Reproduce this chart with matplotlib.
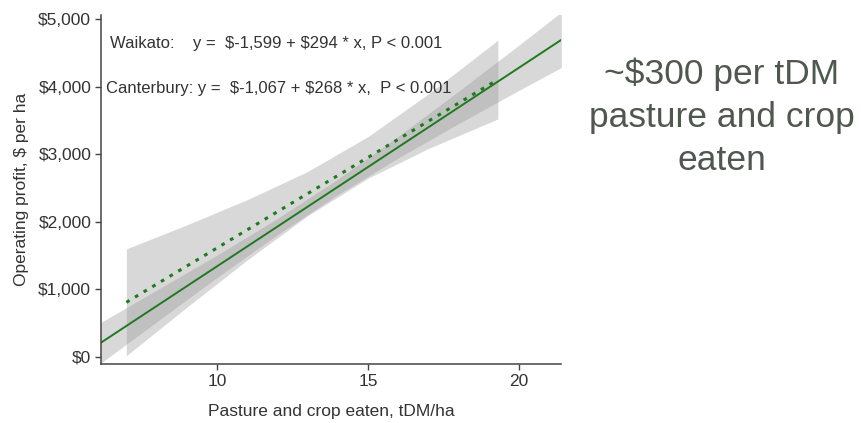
import matplotlib.pyplot as plt
from matplotlib.ticker import FixedLocator

plt.rcParams['font.family'] = ['Liberation Sans', 'DejaVu Sans']

# fitted lines and 95% CI ribbons
waikato_x = [6.15, 8, 10, 12, 14, 16, 18, 20, 21.4]
waikato_fit = [209, 753, 1341, 1929, 2517, 3105, 3693, 4281, 4693]
waikato_lo = [-91, 518, 1176, 1809, 2402, 2945, 3453, 3946, 4283]
waikato_hi = [509, 988, 1506, 2049, 2632, 3265, 3933, 4616, 5103]

canterbury_x = [7, 9, 11, 13, 15, 17, 19.3]
canterbury_fit = [809, 1345, 1881, 2417, 2953, 3489, 4105]
canterbury_lo = [19, 736, 1435, 2090, 2645, 3085, 3522]
canterbury_hi = [1599, 1954, 2327, 2744, 3261, 3893, 4688]

y_ticks = [0, 1000, 2000, 3000, 4000, 5000]
y_tick_labels = ['\\$0', '\\$1,000', '\\$2,000', '\\$3,000', '\\$4,000', '\\$5,000']
x_ticks = [10, 15, 20]

waikato_label = 'Waikato:    y =  \\$-1,599 + \\$294 * x, P < 0.001'
canterbury_label = 'Canterbury: y =  \\$-1,067 + \\$268 * x,  P < 0.001'
side_note = '~\\$300 per tDM\npasture and crop\neaten'

green = '#1f7a1f'
grey_txt = '#333333'

fig = plt.figure(figsize=(8.61, 4.23), dpi=100)
ax = fig.add_axes([0.1173, 0.1395, 0.5343, 0.825])

# CI ribbons
ax.fill_between(waikato_x, waikato_lo, waikato_hi, color='#999999', alpha=0.38, lw=0)
ax.fill_between(canterbury_x, canterbury_lo, canterbury_hi, color='#999999', alpha=0.38, lw=0)

# fitted lines
ax.plot(waikato_x, waikato_fit, color=green, lw=1.4, solid_capstyle='butt')
ax.plot(canterbury_x, canterbury_fit, color=green, lw=2.2, linestyle=(0, (1.2, 2.1)))

ax.set_xlim(6.16, 21.39)
ax.set_ylim(-104, 5060)

ax.yaxis.set_major_locator(FixedLocator(y_ticks))
ax.set_yticklabels(y_tick_labels)
ax.xaxis.set_major_locator(FixedLocator(x_ticks))

for side in ['top', 'right']:
    ax.spines[side].set_visible(False)
for side in ['left', 'bottom']:
    ax.spines[side].set_color('#444444')
    ax.spines[side].set_linewidth(1.1)

ax.tick_params(axis='both', colors='#444444', length=4, width=1.0,
               labelsize=12.5, labelcolor=grey_txt, pad=3)

ax.set_xlabel('Pasture and crop eaten, tDM/ha', fontsize=12.5, color=grey_txt, labelpad=11)
ax.set_ylabel('Operating profit, \\$ per ha', fontsize=12.5, color=grey_txt, labelpad=7)

ax.text(6.46, 4645, waikato_label, fontsize=12, color=grey_txt, ha='left', va='center')
ax.text(6.33, 3979, canterbury_label, fontsize=12, color=grey_txt, ha='left', va='center')

fig.text(0.8386, 0.722, side_note, fontsize=25.5, color='#4f584f', ha='center', va='center',
         linespacing=1.38)

fig.savefig('out.png', dpi=100)
